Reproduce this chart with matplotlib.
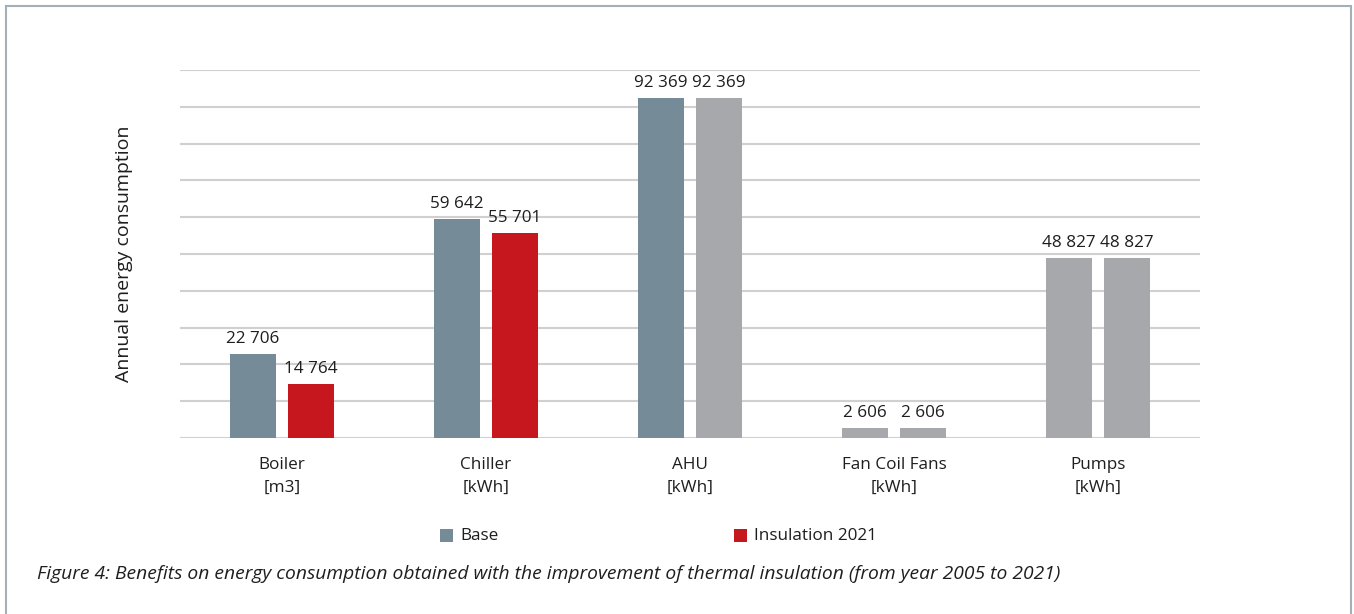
import matplotlib.pyplot as plt
import numpy as np
from matplotlib.patches import Rectangle

# Datos del gráfico
categorias = ["Boiler\n[m3]", "Chiller\n[kWh]", "AHU\n[kWh]", "Fan Coil Fans\n[kWh]", "Pumps\n[kWh]"]
base = [22706, 59642, 92369, 2606, 48827]
aislamiento = [14764, 55701, 92369, 2606, 48827]
etiquetas_base = ["22 706", "59 642", "92 369", "2 606", "48 827"]
etiquetas_aisl = ["14 764", "55 701", "92 369", "2 606", "48 827"]
series = ["Base", "Insulation 2021"]

AZUL = "#768b98"
ROJO = "#c6161e"
GRIS = "#a7a8ac"
colores_base = [AZUL, AZUL, AZUL, GRIS, GRIS]
colores_aisl = [ROJO, ROJO, GRIS, GRIS, GRIS]
TEXTO = "#1e1e1e"

plt.rcParams["font.family"] = ["Open Sans", "DejaVu Sans"]

W, H = 1354, 614
fig = plt.figure(figsize=(W / 100, H / 100), dpi=100)
ax = fig.add_axes([180 / W, 176 / H, 1020 / W, 368 / H])

x = np.arange(len(categorias))
ancho = 0.225
desp = 0.142
b1 = ax.bar(x - desp, base, ancho, color=colores_base, zorder=3)
b2 = ax.bar(x + desp, aislamiento, ancho, color=colores_aisl, zorder=3)

for barras, etiquetas in [(b1, etiquetas_base), (b2, etiquetas_aisl)]:
    for barra, txt in zip(barras, etiquetas):
        ax.annotate(txt, (barra.get_x() + barra.get_width() / 2, barra.get_height()),
                    xytext=(0, 5), textcoords="offset points", ha="center", va="bottom",
                    fontsize=12.3, color=TEXTO)

ax.set_xlim(-0.5, len(categorias) - 0.5)
ax.set_ylim(0, 100000)
ax.set_yticks(np.arange(0, 100001, 10000))
ax.set_yticklabels([])
ax.tick_params(axis="y", length=0)
ax.tick_params(axis="x", length=0, pad=14)
ax.set_xticks(x)
ax.set_xticklabels(categorias, fontsize=12.3, linespacing=1.55, color=TEXTO)
ax.grid(axis="y", color="#d0d0d0", linewidth=1.5, zorder=0)
for lado in ["top", "right", "left", "bottom"]:
    ax.spines[lado].set_visible(False)
ax.set_ylabel("Annual energy consumption", fontsize=14, color=TEXTO)
ax.yaxis.set_label_coords(-0.046, 0.5)

# Leyenda (dibujada a mano para fijar la separación entre entradas)
y_ley = 1 - 535.5 / H
for xc, col, nombre in [(440, AZUL, series[0]), (734, ROJO, series[1])]:
    fig.add_artist(Rectangle((xc / W, y_ley - 6.5 / H), 13 / W, 13 / H,
                             transform=fig.transFigure, color=col, lw=0))
    fig.text((xc + 20) / W, y_ley, nombre, fontsize=12.3, va="center", ha="left", color=TEXTO)

# Pie de figura, ajustado al ancho del original
pie = fig.text(37 / W, 1 - 574 / H,
               "Figure 4: Benefits on energy consumption obtained with the improvement of thermal insulation (from year 2005 to 2021)",
               fontsize=12, style="italic", va="center", ha="left", color=TEXTO)
rend = fig.canvas.get_renderer()
ancho_pie = pie.get_window_extent(rend).width
pie.set_fontsize(12 * 1025 / ancho_pie)

# Marco
fig.add_artist(Rectangle((6 / W, -0.01), 1345 / W, 1.01 - 6 / H, transform=fig.transFigure,
                         fill=False, edgecolor="#a3b0b8", linewidth=1.5))

fig.savefig("out.png", dpi=100)
